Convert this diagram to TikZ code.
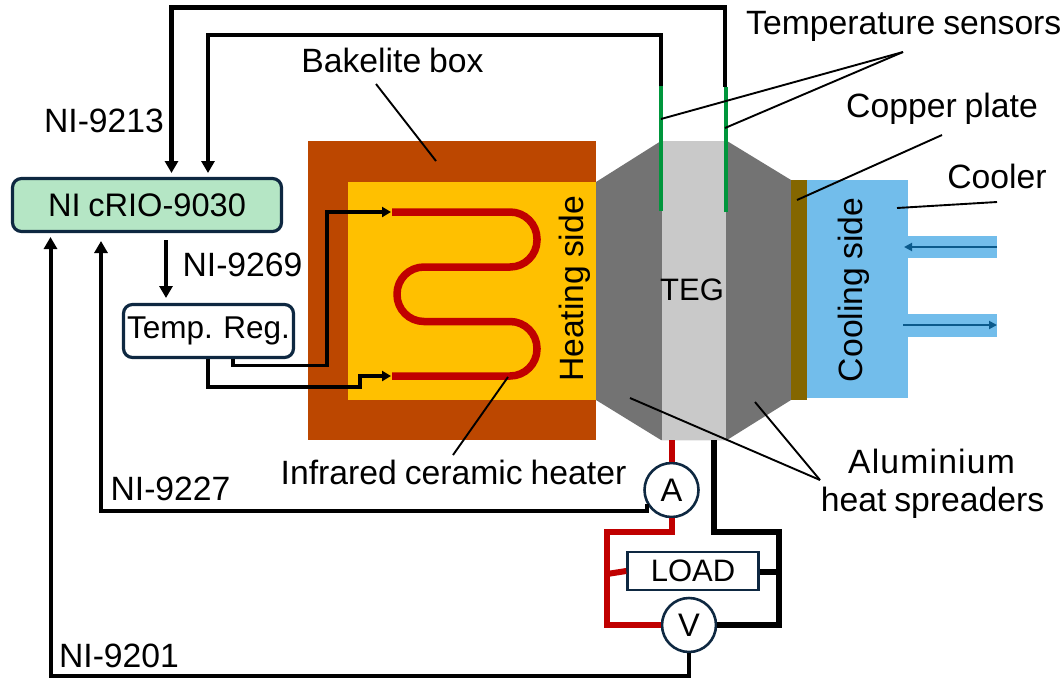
\documentclass[tikz,border=0pt]{standalone}
\usepackage{fontspec}
\setmainfont[WordSpace=0.85]{Liberation Sans}
\usetikzlibrary{arrows.meta}
\definecolor{navy}{HTML}{0E2841}
\definecolor{bake}{HTML}{BC4700}
\definecolor{heatbg}{HTML}{FFC000}
\definecolor{wire}{HTML}{C00000}
\definecolor{grayal}{HTML}{737373}
\definecolor{tegc}{HTML}{C9C9C9}
\definecolor{copperc}{HTML}{846600}
\definecolor{coolc}{HTML}{72BDEB}
\definecolor{flow}{HTML}{0B5A8C}
\definecolor{greens}{HTML}{00963C}
\definecolor{mint}{HTML}{B5E6C5}
\tikzset{
  x=1pt,y=-1pt,
  lbl/.style={font=\fontsize{33.7}{36}\selectfont,inner sep=0pt,text=black},
  boxlbl/.style={font=\fontsize{32.6}{36}\selectfont,inner sep=0pt,text=black},
  boxed/.style={draw=navy,line width=3.2pt,rounded corners=9pt,inner sep=0pt},
  meter/.style={circle,draw=navy,line width=2.6pt,fill=white,minimum size=54pt,inner sep=0pt,font=\fontsize{32.6}{36}\selectfont},
  sig/.style={black,line width=4pt,-{Triangle[length=12pt,width=13pt]}},
  drive/.style={black,line width=3.2pt,-{Triangle[length=9pt,width=10pt]}},
  leader/.style={black,line width=1.9pt},
  redw/.style={wire,line width=6pt},
  blkw/.style={black,line width=6pt},
  probe/.style={greens,line width=4pt},
  flowarrow/.style={flow,line width=1.9pt,-{Triangle[length=8pt,width=8pt]}}
}
\begin{document}
\begin{tikzpicture}
\useasboundingbox (0,0) rectangle (1064,678);
% housing
\fill[bake] (308,141) rectangle (596,440);
\fill[heatbg] (348,182) rectangle (596,400);
% spreaders and TEG
\fill[grayal] (596,182) -- (661,141) -- (727,141) -- (791,180) -- (791,400) -- (727,440) -- (661,440) -- (596,400) -- cycle;
\fill[tegc] (662,141) rectangle (726,440);
% cooler
\fill[coolc] (807,180) rectangle (908,398);
\fill[coolc] (908,236) rectangle (997,258);
\fill[coolc] (908,314) rectangle (997,337);
\fill[copperc] (791,180) rectangle (807,400);
\coordinate (inS) at (997,247); \coordinate (inE) at (904,247);
\coordinate (outS) at (903,325); \coordinate (outE) at (997,325);
\draw[flowarrow] (inS) -- (inE);
\draw[flowarrow] (outS) -- (outE);
% heater
\draw[wire,line width=7.5pt,rounded corners=27pt] (392,212) -- (537,212) -- (537,267) -- (397,267) -- (397,321.5) -- (537,321.5) -- (537,376) -- (392,376);
% boxes
\node[boxed,fill=mint,minimum width=269pt,minimum height=53pt,boxlbl] (crio) at (147,205) {NI cRIO-9030};
\node[boxed,fill=white,minimum width=170pt,minimum height=53pt,boxlbl,font=\fontsize{31.5}{36}\selectfont] (reg) at (208.5,331) {Temp. Reg.};
% probes
\coordinate (p1b) at (661,211); \coordinate (p1t) at (661,86);
\coordinate (p2b) at (726,212); \coordinate (p2t) at (726,87);
\draw[probe] (p1b) -- (p1t);
\draw[probe] (p2b) -- (p2t);
\coordinate (c1) at (208,173); \coordinate (c2) at (171.5,173);
\draw[sig,line width=4.6pt,line join=miter] (p1t) -- (661,35) -- (208,35) -- (c1);
\draw[sig,line width=4.6pt,line join=miter] (725,87) -- (725,7.5) -- (171.5,7.5) -- (c2);
% reg links
\coordinate (cOut) at (166,240); \coordinate (rIn) at (166,298);
\draw[sig] (cOut) -- (rIn);
\coordinate (h1) at (391,212); \coordinate (h2) at (391,376);
\draw[drive] (233,359) -- (233,365.5) -- (327,365.5) -- (327,212) -- (h1);
\draw[drive] (208,359) -- (208,387) -- (360,387) -- (360,376) -- (h2);
% meters and load
\node[meter] (A) at (671.5,490) {A};
\node[meter] (V) at (689,625) {V};
\node[draw=navy,line width=2.6pt,fill=white,minimum width=131pt,minimum height=38pt,inner sep=0pt,font=\fontsize{31}{36}\selectfont] (load) at (693,571) {LOAD};
% power wiring
\draw[redw] (671.5,440) -- (A.north);
\draw[redw,line join=miter] (A.south) -- (671.5,532) -- (607,532) -- (607,625) -- (V.west);
\draw[redw] (607,574) -- (load.west);
\draw[blkw,line join=miter] (714,440) -- (714,532) -- (779,532) -- (779,625) -- (V.east);
\draw[blkw] (load.east |- 0,572) -- (779,572);
% measurement lines
\coordinate (aIn) at (101,241); \coordinate (vIn) at (50.5,237);
\draw[sig] (A.210) |- (101,510.5) -- (aIn);
\draw[sig] (V.south) -- (689,676) -- (50.5,676) -- (vIn);
% leaders
\coordinate (lb1) at (376,84); \coordinate (lb2) at (436,161);
\draw[leader] (lb1) -- (lb2);
\coordinate (ts) at (903,52);
\draw[leader] (ts) -- (661,119);
\draw[leader] (ts) -- (725,128);
\draw[leader] (942,135) -- (797,200);
\draw[leader] (997,202) -- (897,208);
\coordinate (al) at (820,480);
\draw[leader] (al) -- (630,398);
\draw[leader] (al) -- (755,402);
\draw[leader] (508,377) -- (453,455);
% labels
\node[lbl,anchor=west] (t1) at (746,26) {Temperature sensors};
\node[lbl] (t2) at (392.5,60) {Bakelite box};
\node[lbl] (t3) at (942,109) {Copper plate};
\node[lbl] (t4) at (997,176) {Cooler};
\node[lbl] (t5) at (104,121) {NI-9213};
\node[lbl] (t6) at (242.5,265) {NI-9269};
\node[lbl,rotate=90] (t7) at (575,289) {Heating side};
\node[lbl,font=\fontsize{31}{36}\selectfont] (t8) at (692,290) {TEG};
\node[lbl,rotate=90] (t9) at (854,290) {Cooling side};
\node[lbl] (t10) at (453.5,472) {Infrared ceramic heater};
\node[lbl] (t11) at (170.5,489) {NI-9227};
\node[lbl] (t12) at (119,656) {NI-9201};
\node[lbl] (t13) at (931.5,461) {\addfontfeature{LetterSpace=3.5}Aluminium};
\node[lbl] (t14) at (932.5,503) {heat spreaders};
\end{tikzpicture}
\end{document}
